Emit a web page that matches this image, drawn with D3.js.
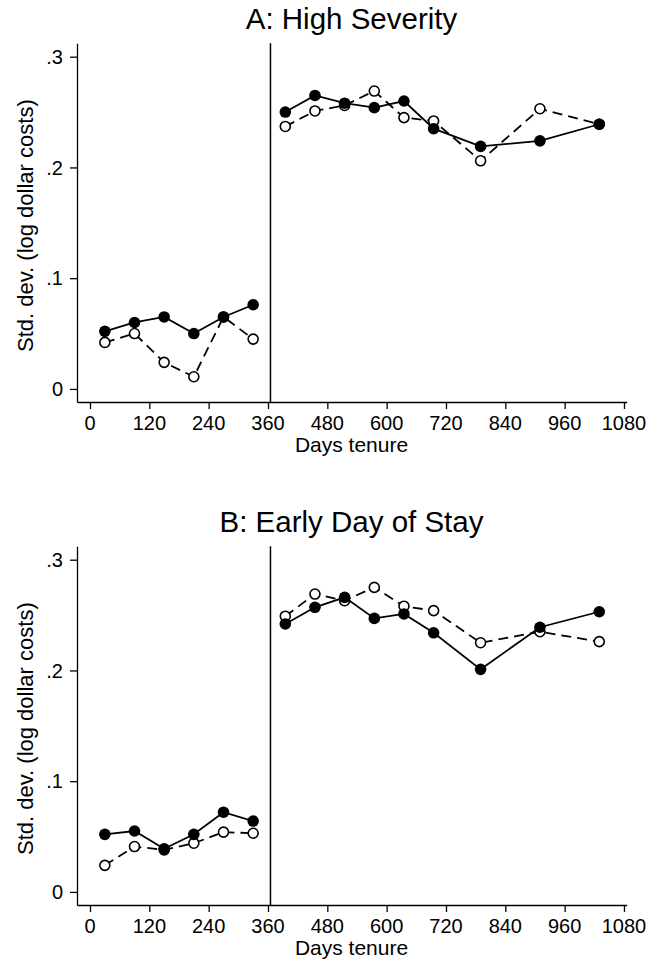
<!DOCTYPE html>
<html>
<head>
<meta charset="utf-8">
<script src="https://cdn.jsdelivr.net/npm/d3@7"></script>
<style>
  body { margin: 0; background: #fff; }
  svg { display: block; }
</style>
</head>
<body>
<div id="chart"></div>
<script>
// days tenure (bin midpoints), break at one year
const days = [30, 90, 150, 210, 270, 330, 395, 455, 515, 575, 635, 695, 790, 910, 1030];
const cutoff = 365;

const xTicks = [0, 120, 240, 360, 480, 600, 720, 840, 960, 1080];
const yTicks = [0, 0.1, 0.2, 0.3];
const yTickLabels = ['0', '.1', '.2', '.3'];

const panelTitles = ['A: High Severity', 'B: Early Day of Stay'];
const xTitle = 'Days tenure';
const yTitle = 'Std. dev. (log dollar costs)';

// panel A
const highSevFilled = [0.052, 0.060, 0.065, 0.050, 0.065, 0.076, 0.250, 0.265, 0.258, 0.254, 0.260, 0.235, 0.219, 0.224, 0.239];
const highSevHollow = [0.042, 0.050, 0.024, 0.011, 0.065, 0.045, 0.237, 0.251, 0.256, 0.269, 0.245, 0.242, 0.206, 0.253, 0.239];
// panel B
const earlyDayFilled = [0.052, 0.055, 0.039, 0.052, 0.072, 0.064, 0.242, 0.257, 0.266, 0.247, 0.251, 0.234, 0.201, 0.239, 0.253];
const earlyDayHollow = [0.024, 0.041, 0.038, 0.044, 0.054, 0.053, 0.249, 0.269, 0.263, 0.275, 0.258, 0.254, 0.225, 0.235, 0.226];

const W = 649, H = 964;
const font = "'Liberation Sans', Arial, Helvetica, sans-serif";

const svg = d3.select('#chart').append('svg')
  .attr('width', W).attr('height', H);

const x = d3.scaleLinear().domain([-26.3, 1085.5]).range([77, 626.7]);

function drawPanel(top, title, filled, hollow) {
  const g = svg.append('g').attr('transform', `translate(0,${top})`);
  const y = d3.scaleLinear().domain([-0.0118, 0.3121]).range([402, 43.3]);

  // title
  g.append('text')
    .attr('x', 351.5).attr('y', 29)
    .attr('text-anchor', 'middle')
    .attr('font-family', font).attr('font-size', '29.5px')
    .attr('fill', '#000')
    .text(title);

  // axes
  const xAxis = g.append('g').attr('transform', 'translate(0,402)')
    .call(d3.axisBottom(x).tickValues(xTicks).tickSize(7).tickSizeOuter(0).tickFormat(''));
  const yAxis = g.append('g').attr('transform', 'translate(77,0)')
    .call(d3.axisLeft(y).tickValues(yTicks).tickSize(7).tickSizeOuter(0).tickFormat(''));
  [xAxis, yAxis].forEach(a => {
    a.selectAll('path, line').attr('stroke', '#000').attr('stroke-width', 1.3);
  });

  g.append('g').selectAll('text')
    .data(xTicks).enter().append('text')
    .attr('x', d => x(d)).attr('y', 402 + 28)
    .attr('text-anchor', 'middle')
    .attr('font-family', font).attr('font-size', '20px')
    .text(d => d);

  g.append('g').selectAll('text')
    .data(yTicks).enter().append('text')
    .attr('x', 63).attr('y', d => y(d)).attr('dy', '0.36em')
    .attr('text-anchor', 'end')
    .attr('font-family', font).attr('font-size', '20px')
    .text((d, i) => yTickLabels[i]);

  g.append('text')
    .attr('x', 351.5).attr('y', 402 + 50)
    .attr('text-anchor', 'middle')
    .attr('font-family', font).attr('font-size', '21px')
    .text(xTitle);

  g.append('text')
    .attr('transform', `translate(33,${(43.3 + 402) / 2 + 3}) rotate(-90)`)
    .attr('text-anchor', 'middle')
    .attr('font-family', font).attr('font-size', '22px')
    .text(yTitle);

  // one-year line
  g.append('line')
    .attr('x1', x(cutoff)).attr('x2', x(cutoff))
    .attr('y1', y.range()[1]).attr('y2', y.range()[0])
    .attr('stroke', '#000').attr('stroke-width', 1.5);

  const line = d3.line().x(d => x(d.day)).y(d => y(d.v));

  function series(vals, dashed) {
    const pts = days.map((d, i) => ({ day: d, v: vals[i] }));
    const segs = [pts.filter(p => p.day < cutoff), pts.filter(p => p.day > cutoff)];
    const sg = g.append('g');
    sg.selectAll('path').data(segs).enter().append('path')
      .attr('d', line)
      .attr('fill', 'none').attr('stroke', '#000')
      .attr('stroke-width', 1.8)
      .attr('stroke-dasharray', dashed ? '10,6' : null);
    sg.selectAll('circle').data(pts).enter().append('circle')
      .attr('cx', d => x(d.day)).attr('cy', d => y(d.v))
      .attr('r', dashed ? 5 : 5.8)
      .attr('fill', dashed ? '#fff' : '#000')
      .attr('stroke', '#000').attr('stroke-width', dashed ? 1.6 : 0);
  }

  series(hollow, true);
  series(filled, false);
}

drawPanel(0, panelTitles[0], highSevFilled, highSevHollow);
drawPanel(503, panelTitles[1], earlyDayFilled, earlyDayHollow);
</script>
</body>
</html>
